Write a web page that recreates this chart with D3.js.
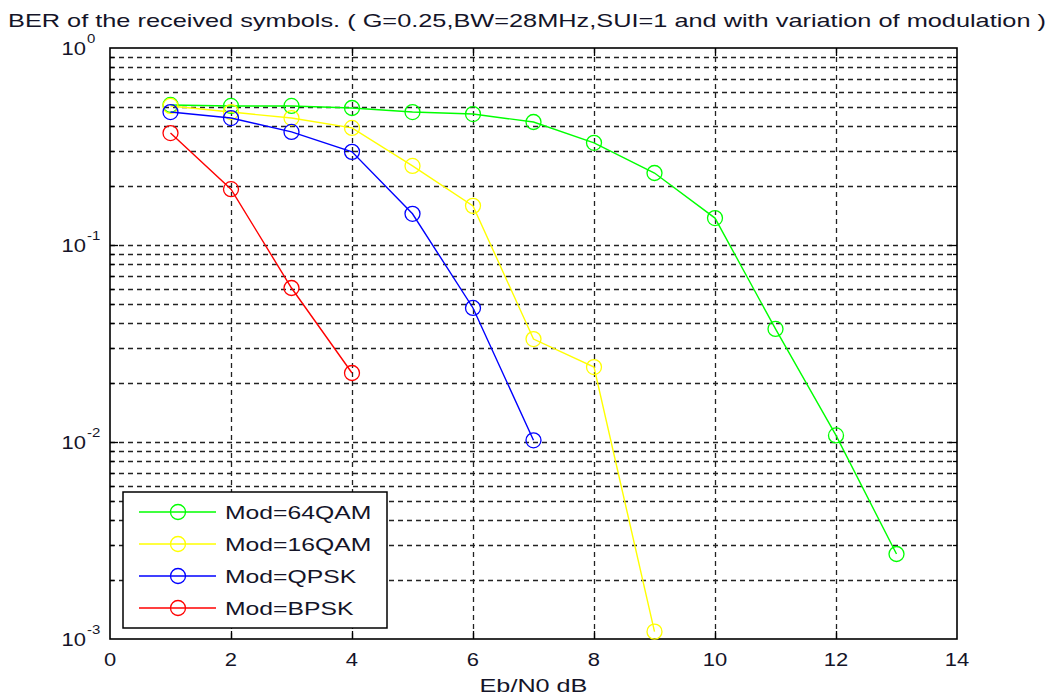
<!DOCTYPE html>
<html>
<head>
<meta charset="utf-8">
<script src="https://cdn.jsdelivr.net/npm/d3@7"></script>
<style>
  body { margin: 0; background: #fff; }
  text { font-family: "Liberation Sans", Arial, sans-serif; fill: #141428; }
</style>
</head>
<body>
<svg id="chart"></svg>
<script>
// Eb/N0 values (dB) for each modulation
var snr64 = [1, 2, 3, 4, 5, 6, 7, 8, 9, 10, 11, 12, 13];
var ber64 = [0.514, 0.508, 0.508, 0.496, 0.473, 0.462, 0.421, 0.330, 0.232, 0.137, 0.0375, 0.0108, 0.0027];

var snr16 = [1, 2, 3, 4, 5, 6, 7, 8, 9];
var ber16 = [0.508, 0.473, 0.441, 0.393, 0.252, 0.158, 0.0333, 0.024, 0.00109];

var snrQpsk = [1, 2, 3, 4, 5, 6, 7];
var berQpsk = [0.473, 0.441, 0.375, 0.297, 0.144, 0.0479, 0.0102];

var snrBpsk = [1, 2, 3, 4];
var berBpsk = [0.370, 0.192, 0.0605, 0.0224];

var seriesNames = ["Mod=64QAM", "Mod=16QAM", "Mod=QPSK", "Mod=BPSK"];
var seriesColors = ["#00ff00", "#ffff00", "#0000ff", "#ff0000"];

var xTicks = [0, 2, 4, 6, 8, 10, 12, 14];
var yExponents = [0, -1, -2, -3];

var titleText = "BER of the received symbols. ( G=0.25,BW=28MHz,SUI=1 and with variation of modulation )";
var xLabel = "Eb/N0 dB";

var series = [
  {name: seriesNames[0], color: seriesColors[0], x: snr64, y: ber64},
  {name: seriesNames[1], color: seriesColors[1], x: snr16, y: ber16},
  {name: seriesNames[2], color: seriesColors[2], x: snrQpsk, y: berQpsk},
  {name: seriesNames[3], color: seriesColors[3], x: snrBpsk, y: berBpsk}
];

var width = 1054, height = 698;
var margin = {top: 48, right: 97, bottom: 59, left: 110};
var plotW = width - margin.left - margin.right,
    plotH = height - margin.top - margin.bottom;

var svg = d3.select("#chart")
    .attr("width", width)
    .attr("height", height);

var x = d3.scaleLinear().domain([0, 14]).range([0, plotW]);
var y = d3.scaleLog().domain([1e-3, 1]).range([plotH, 0]);

var g = svg.append("g")
    .attr("transform", "translate(" + margin.left + "," + margin.top + ")");

// the original font is wider than Liberation Sans, stretch text horizontally
function widen(sel, factor) {
  sel.each(function() {
    var w = this.getComputedTextLength();
    d3.select(this)
        .attr("textLength", w * factor)
        .attr("lengthAdjust", "spacingAndGlyphs");
  });
}

// log minor values
var minorVals = [];
for (var e = -3; e < 0; e++) {
  for (var m = 2; m <= 9; m++) minorVals.push(m * Math.pow(10, e));
}
var majorVals = yExponents.map(function(p) { return Math.pow(10, p); });

// grid
var grid = g.append("g").attr("class", "grid")
    .attr("stroke", "#222").attr("stroke-width", 1.3)
    .attr("stroke-dasharray", "5,4");

grid.selectAll("line.hgrid")
    .data(minorVals.concat(majorVals.slice(1, 3)))
  .enter().append("line")
    .attr("x1", 0).attr("x2", plotW)
    .attr("y1", function(d) { return Math.round(y(d)) + 0.5; })
    .attr("y2", function(d) { return Math.round(y(d)) + 0.5; });

grid.selectAll("line.vgrid")
    .data(xTicks.slice(1, -1))
  .enter().append("line")
    .attr("y1", 0).attr("y2", plotH)
    .attr("x1", function(d) { return Math.round(x(d)) + 0.5; })
    .attr("x2", function(d) { return Math.round(x(d)) + 0.5; });

// ticks inside the box
var ticks = g.append("g").attr("stroke", "#000").attr("stroke-width", 1.3);
xTicks.slice(1, -1).forEach(function(t) {
  var px = Math.round(x(t)) + 0.5;
  ticks.append("line").attr("x1", px).attr("x2", px).attr("y1", plotH).attr("y2", plotH - 8);
  ticks.append("line").attr("x1", px).attr("x2", px).attr("y1", 0).attr("y2", 8);
});
minorVals.forEach(function(v) {
  var py = Math.round(y(v)) + 0.5;
  ticks.append("line").attr("x1", 0).attr("x2", 4).attr("y1", py).attr("y2", py);
  ticks.append("line").attr("x1", plotW).attr("x2", plotW - 4).attr("y1", py).attr("y2", py);
});
majorVals.slice(1, 3).forEach(function(v) {
  var py = Math.round(y(v)) + 0.5;
  ticks.append("line").attr("x1", 0).attr("x2", 8).attr("y1", py).attr("y2", py);
  ticks.append("line").attr("x1", plotW).attr("x2", plotW - 8).attr("y1", py).attr("y2", py);
});

// frame
g.append("rect")
    .attr("x", 0).attr("y", 0)
    .attr("width", plotW).attr("height", plotH)
    .attr("fill", "none").attr("stroke", "#000").attr("stroke-width", 1.6);

// x tick labels
g.selectAll("text.xt")
    .data(xTicks)
  .enter().append("text")
    .attr("x", function(d) { return x(d); })
    .attr("y", plotH + 27)
    .attr("text-anchor", "middle")
    .style("font-size", "18px")
    .text(function(d) { return d; })
    .call(widen, 1.22);

// y tick labels 10^n
var yt = g.selectAll("g.yt")
    .data(yExponents)
  .enter().append("g")
    .attr("transform", function(d) { return "translate(-24," + (y(Math.pow(10, d)) + 7) + ")"; });
yt.append("text")
    .attr("text-anchor", "end")
    .style("font-size", "18px")
    .text("10")
    .call(widen, 1.22);
yt.append("text")
    .attr("x", 1).attr("y", -12)
    .attr("text-anchor", "start")
    .style("font-size", "13px")
    .text(function(d) { return d; })
    .call(widen, 1.15);

// lines and markers
var line = d3.line()
    .x(function(d) { return x(d[0]); })
    .y(function(d) { return y(d[1]); });

series.forEach(function(s) {
  var pts = s.x.map(function(v, i) { return [v, s.y[i]]; });
  g.append("path")
      .datum(pts)
      .attr("d", line)
      .attr("fill", "none")
      .attr("stroke", s.color)
      .attr("stroke-width", 1.4);
  g.selectAll(null)
      .data(pts)
    .enter().append("circle")
      .attr("cx", function(d) { return x(d[0]); })
      .attr("cy", function(d) { return y(d[1]); })
      .attr("r", 7.5)
      .attr("fill", "none")
      .attr("stroke", s.color)
      .attr("stroke-width", 1.3);
});

// legend
var lg = svg.append("g").attr("transform", "translate(123,492)");
lg.append("rect")
    .attr("width", 264).attr("height", 136)
    .attr("fill", "#fff").attr("stroke", "#000").attr("stroke-width", 1.5);
var item = lg.selectAll("g.item")
    .data(series)
  .enter().append("g")
    .attr("transform", function(d, i) { return "translate(0," + (20 + i * 32) + ")"; });
item.append("line")
    .attr("x1", 16).attr("x2", 93)
    .attr("stroke", function(d) { return d.color; })
    .attr("stroke-width", 1.4);
item.append("circle")
    .attr("cx", 55).attr("r", 7.5)
    .attr("fill", "none")
    .attr("stroke", function(d) { return d.color; })
    .attr("stroke-width", 1.3);
item.append("text")
    .attr("x", 102).attr("y", 7)
    .style("font-size", "19px")
    .text(function(d) { return d.name; })
    .call(widen, 1.3);

// title and axis label
svg.append("text")
    .attr("x", 527).attr("y", 27)
    .attr("text-anchor", "middle")
    .attr("textLength", 1038)
    .attr("lengthAdjust", "spacingAndGlyphs")
    .style("font-size", "19px")
    .text(titleText);

svg.append("text")
    .attr("x", margin.left + plotW / 2).attr("y", 692)
    .attr("text-anchor", "middle")
    .style("font-size", "18px")
    .text(xLabel)
    .call(widen, 1.4);
</script>
</body>
</html>
